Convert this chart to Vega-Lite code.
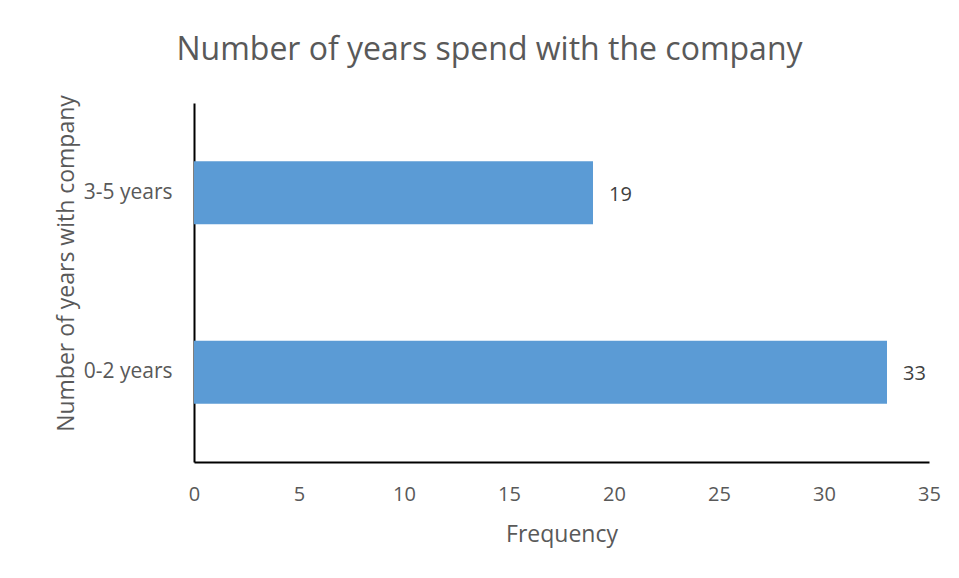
{
  "$schema": "https://vega.github.io/schema/vega-lite/v6.json",
  "autosize": {"type": "none"},
  "width": 735,
  "height": 359,
  "padding": {"left": 194, "top": 103, "right": 30, "bottom": 116},
  "background": "white",
  "title": {
    "text": "Number of years spend with the company",
    "font": "Open Sans",
    "fontSize": 32,
    "fontWeight": "normal",
    "color": "#595959",
    "anchor": "middle",
    "dx": -72,
    "offset": 28
  },
  "data": {
    "values": [
      {"category": "3-5 years", "frequency": 19},
      {"category": "0-2 years", "frequency": 33}
    ]
  },
  "encoding": {
    "y": {
      "field": "category",
      "type": "nominal",
      "sort": ["3-5 years", "0-2 years"],
      "scale": {"paddingInner": 0.65, "paddingOuter": 0.325},
      "axis": {
        "title": "Number of years with company",
        "titleFont": "Open Sans",
        "titleFontSize": 23,
        "titleFontWeight": "normal",
        "titleColor": "#595959",
        "titlePadding": 5,
        "titleY": 160,
        "labelFont": "Open Sans",
        "labelFontSize": 21,
        "labelColor": "#595959",
        "labelPadding": 22,
        "ticks": false,
        "domainColor": "#000000",
        "domainWidth": 2,
        "grid": false
      }
    },
    "x": {
      "field": "frequency",
      "type": "quantitative",
      "scale": {"domain": [0, 35], "nice": false},
      "axis": {
        "title": "Frequency",
        "titleFont": "Open Sans",
        "titleFontSize": 23,
        "titleFontWeight": "normal",
        "titleColor": "#595959",
        "titlePadding": 19,
        "labelFont": "Open Sans",
        "labelFontSize": 20,
        "labelColor": "#595959",
        "labelPadding": 22,
        "labelFlush": false,
        "values": [0, 5, 10, 15, 20, 25, 30, 35],
        "ticks": false,
        "domainColor": "#000000",
        "domainWidth": 2,
        "grid": false
      }
    }
  },
  "layer": [
    {"mark": {"type": "bar", "color": "#5B9BD5"}},
    {
      "mark": {"type": "text", "align": "left", "dx": 16, "dy": 2, "font": "Open Sans", "fontSize": 20, "color": "#404040"},
      "encoding": {"text": {"field": "frequency", "type": "quantitative"}}
    }
  ],
  "config": {"view": {"stroke": null}}
}
